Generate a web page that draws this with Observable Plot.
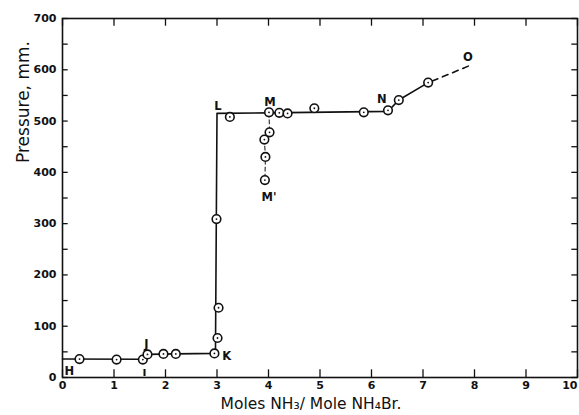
<!DOCTYPE html>
<html>
<head>
<meta charset="utf-8">
<script src="https://cdn.jsdelivr.net/npm/d3@7"></script>
<script src="https://cdn.jsdelivr.net/npm/@observablehq/plot@0.6"></script>
<style>
  html, body { margin: 0; padding: 0; background: #fff; }
  #chart svg { display: block; }
</style>
</head>
<body>
<div id="chart"></div>
<script>
// Measured points (moles NH3 per mole NH4Br, pressure mm)
const ptX = [0.33, 1.05, 1.56, 1.65, 1.96, 2.20, 2.95, 3.01, 3.03, 2.99, 3.25, 4.01, 4.21, 4.37, 4.89, 5.85, 6.32, 6.53, 7.10, 4.02, 3.92, 3.94, 3.93];
const ptY = [36, 35, 35, 45, 46, 46, 47, 77, 136, 309, 508, 517, 516, 515, 525, 517, 521, 541, 575, 478, 464, 430, 385];

// Solid curve H-J-K-L-M-N
const lineX = [0, 1.56, 1.65, 2.20, 2.97, 2.97, 3.0, 4.0, 6.32, 6.53, 7.10];
const lineY = [36, 35.5, 45, 46, 47, 47, 515, 516, 519, 541, 575];
// Dashed extrapolation N -> O
const dashX = [7.18, 7.90];
const dashY = [578, 608];
// Dashed branch M -> M'
const branchX = [4.01, 4.02, 3.92, 3.94, 3.93];
const branchY = [516, 478, 464, 430, 385];

// Point letters
const labText = ["H", "J", "K", "L", "M", "M'", "N", "O", "ı"];
const labX = [0.13, 1.63, 3.19, 3.02, 4.03, 4.01, 6.20, 7.87, 1.59];
const labY = [13, 64, 41, 528, 537, 352, 542, 624, 10];

const xTicks = [0, 1, 2, 3, 4, 5, 6, 7, 8, 9, 10];
const xLastTick = [10];
const yTicks = [0, 100, 200, 300, 400, 500, 600, 700];
const yMinor = [50, 150, 250, 350, 450, 550, 650];

const xTitle = "Moles NH₃/ Mole NH₄Br.";
const yTitle = "Pressure, mm.";

const pts = ptX.map((x, i) => ({x, y: ptY[i]}));
const line = lineX.map((x, i) => ({x, y: lineY[i]}));
const dash = dashX.map((x, i) => ({x, y: dashY[i]}));
const branch = branchX.map((x, i) => ({x, y: branchY[i]}));
const labs = labText.map((t, i) => ({t, x: labX[i], y: labY[i]}));
const yAll = yTicks.concat(yMinor);
const xInner = xTicks.filter(d => !xLastTick.includes(d));

const font = "'DejaVu Sans', 'Liberation Sans', sans-serif";

const chart = Plot.plot({
  width: 579,
  height: 415,
  marginLeft: 62,
  marginRight: 2,
  marginTop: 18,
  marginBottom: 38,
  style: {fontFamily: font, background: "#fff", color: "#111"},
  x: {domain: [0, 10]},
  y: {domain: [0, 700]},
  marks: [
    Plot.frame({stroke: "#111", strokeWidth: 1.6}),
    // inward ticks
    Plot.ruleX(xTicks, {x: d => d, y1: 0, y2: 15, stroke: "#111", strokeWidth: 1.3}),
    Plot.ruleX(xTicks, {x: d => d, y1: 685, y2: 700, stroke: "#111", strokeWidth: 1.3}),
    Plot.ruleY(yAll, {y: d => d, x1: 0, x2: 0.11, stroke: "#111", strokeWidth: 1.3}),
    Plot.ruleY(yAll, {y: d => d, x1: 9.89, x2: 10, stroke: "#111", strokeWidth: 1.3}),
    Plot.axisX({ticks: xInner, tickSize: 0, tickPadding: 4, tickFormat: d => String(d), fontSize: 11, fontWeight: "bold", label: null}),
    Plot.text(xLastTick, {x: d => d, frameAnchor: "bottom", dy: 11, textAnchor: "end", text: d => String(d), fontSize: 11, fontWeight: "bold", fill: "#111"}),
    Plot.axisY({ticks: yTicks, tickSize: 0, tickPadding: 6, tickFormat: d => String(d), fontSize: 11, fontWeight: "bold", label: null}),
    // curves
    Plot.line(line, {x: "x", y: "y", stroke: "#111", strokeWidth: 1.6}),
    Plot.line(dash, {x: "x", y: "y", stroke: "#111", strokeWidth: 1.6, strokeDasharray: "6,5"}),
    Plot.line(branch, {x: "x", y: "y", stroke: "#111", strokeWidth: 1, strokeDasharray: "4,3"}),
    // points
    Plot.dot(pts, {x: "x", y: "y", r: 4.3, stroke: "#111", strokeWidth: 1.6, fill: "#fff"}),
    Plot.dot(pts, {x: "x", y: "y", r: 0.9, fill: "#111", stroke: null}),
    // letters
    Plot.text(labs, {x: "x", y: "y", text: "t", fontSize: 11.5, fontWeight: "bold", fill: "#111"}),
    // titles
    Plot.text([xTitle], {frameAnchor: "bottom", dx: -9, dy: 31, fontSize: 15.5, fill: "#111", fontFamily: font}),
    Plot.text([yTitle], {frameAnchor: "left", dx: -39, dy: -35, rotate: -90, fontSize: 17, fill: "#111", fontFamily: font})
  ]
});
document.getElementById("chart").appendChild(chart);
</script>
</body>
</html>
